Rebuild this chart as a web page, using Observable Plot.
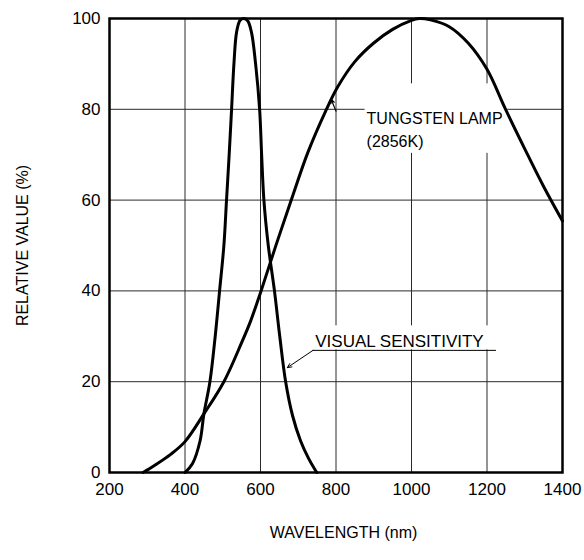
<!DOCTYPE html>
<html>
<head>
<meta charset="utf-8">
<script src="https://cdn.jsdelivr.net/npm/d3@7"></script>
<script src="https://cdn.jsdelivr.net/npm/@observablehq/plot@0.6"></script>
<style>
  html, body { margin: 0; padding: 0; background: #fff; }
  #chart { width: 584px; height: 560px; }
  svg { font-family: "Liberation Sans", Arial, Helvetica, sans-serif; }
</style>
</head>
<body>
<div id="chart"></div>
<script>
// Visual sensitivity curve: wavelength (nm), relative value (%)
const visualNm  = [400, 420, 440, 450, 466, 480, 491.6, 503, 510, 517, 523.4, 529.6, 536.7, 546, 556, 566, 576, 587, 597.7, 603, 609, 620.6, 637, 651, 666.6, 685, 706, 728, 749];
const visualVal = [0,   2,   7,   12.9, 20, 30,  40,    50,  60,  70,  80,    90,    97,    99.6, 100, 99.5, 97, 90, 80,    70,  60,  50,    40,  30,  20,    12.5, 7,  3,   0];

// Tungsten lamp (2856K) curve
const tungstenNm  = [289, 320, 362, 400, 450, 503, 550, 574, 600, 640, 681.5, 725, 772, 805, 850, 900, 950, 1000, 1020, 1050, 1100, 1150, 1200, 1248, 1300, 1350, 1400];
const tungstenVal = [0,   1.6, 4,   6.8, 12.9, 20, 28.6, 33.4, 39.6, 49.8, 60, 70.4, 79.5, 85,  90.5, 94.6, 97.6, 99.6, 100, 99.7, 98.2, 94.6, 88.8, 80.2, 71.3, 63,   55.4];

// Axis ticks
const xTicks = [200, 400, 600, 800, 1000, 1200, 1400];
const yTicks = [0, 20, 40, 60, 80, 100];
const xTitle = "WAVELENGTH (nm)";
const yTitle = "RELATIVE VALUE (%)";

// Annotation labels and anchors (data units)
const tungstenLabel = ["TUNGSTEN LAMP", "(2856K)"];
const tungstenLabelPos = [{x: 881, y: 78}, {x: 881, y: 72.9}];
const tungstenBox = {x1: 877, x2: 1255, y1: 70.3, y2: 85.6};
const tungstenArrow = {x1: 800, y1: 79.6, x2: 787, y2: 82.2};

const visualLabel = "VISUAL SENSITIVITY";
const visualLabelPos = {x: 745, y: 27.6};
const visualBox = {x1: 739, x2: 1225, y1: 27, y2: 32.3};
const visualUnderline = {x1: 739, x2: 1225, y: 26.9};
const visualArrow = {x1: 739, y1: 26.9, x2: 671, y2: 23.1};

const visual = visualNm.map((d, i) => ({nm: d, v: visualVal[i]}));
const tungsten = tungstenNm.map((d, i) => ({nm: d, v: tungstenVal[i]}));

const FS = 17;

const plot = Plot.plot({
  width: 584,
  height: 560,
  marginLeft: 109,
  marginRight: 22,
  marginTop: 18,
  marginBottom: 88,
  style: {fontFamily: '"Liberation Sans", Arial, Helvetica, sans-serif', fontSize: FS + "px", color: "#000", background: "#fff"},
  x: {domain: [200, 1400]},
  y: {domain: [0, 100]},
  marks: [
    Plot.gridX(xTicks.slice(1, -1), {stroke: "#2a2a2a", strokeOpacity: 1, strokeWidth: 1}),
    Plot.gridY(yTicks.slice(1, -1), {stroke: "#2a2a2a", strokeOpacity: 1, strokeWidth: 1}),
    Plot.rect([tungstenBox], {x1: "x1", x2: "x2", y1: "y1", y2: "y2", fill: "#fff"}),
    Plot.rect([visualBox], {x1: "x1", x2: "x2", y1: "y1", y2: "y2", fill: "#fff"}),
    Plot.text(tungstenLabel, {x: (d, i) => tungstenLabelPos[i].x, y: (d, i) => tungstenLabelPos[i].y, text: d => d, textAnchor: "start", fontSize: FS - 1, fill: "#000"}),
    Plot.text([visualLabel], {x: visualLabelPos.x, y: visualLabelPos.y, text: d => d, textAnchor: "start", lineAnchor: "bottom", fontSize: FS, fill: "#000"}),
    Plot.ruleY([visualUnderline], {x1: "x1", x2: "x2", y: "y", stroke: "#000", strokeWidth: 1}),
    Plot.arrow([visualArrow], {x1: "x1", y1: "y1", x2: "x2", y2: "y2", stroke: "#000", strokeWidth: 1, headLength: 7, headAngle: 50}),
    Plot.arrow([tungstenArrow], {x1: "x1", y1: "y1", x2: "x2", y2: "y2", stroke: "#000", strokeWidth: 1.2, headLength: 7, headAngle: 50}),
    Plot.line(tungsten, {x: "nm", y: "v", stroke: "#000", strokeWidth: 3, curve: "catmull-rom"}),
    Plot.line(visual, {x: "nm", y: "v", stroke: "#000", strokeWidth: 3, curve: "catmull-rom"}),
    Plot.frame({stroke: "#000", strokeWidth: 2.5}),
    Plot.axisX(xTicks, {tickSize: 0, tickPadding: 10, fontSize: FS, tickFormat: d => String(d), label: null}),
    Plot.axisY(yTicks, {tickSize: 0, tickPadding: 9, fontSize: FS, tickFormat: d => String(d), label: null}),
    Plot.text([xTitle], {x: 820, frameAnchor: "bottom", lineAnchor: "middle", textAnchor: "middle", dy: 60, text: d => d, fontSize: 16, fill: "#000"}),
    Plot.text([yTitle], {frameAnchor: "left", textAnchor: "middle", lineAnchor: "middle", dx: -87, rotate: -90, text: d => d, fontSize: 16, fill: "#000"})
  ]
});
document.getElementById("chart").appendChild(plot);
</script>
</body>
</html>
